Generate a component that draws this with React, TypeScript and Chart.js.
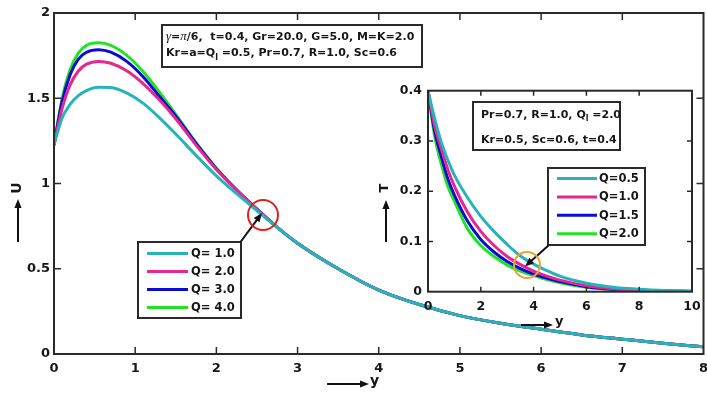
import React, { useEffect, useRef } from 'react';
import { Chart, registerables } from 'chart.js';
Chart.register(...registerables);

// ---------- Data (main plot: velocity U vs y) ----------
const mainY = [0, 0.1, 0.2, 0.3, 0.4, 0.55, 0.7, 0.9, 1.1, 1.3, 1.5, 1.75, 2, 2.25, 2.5, 2.75, 3, 3.5, 4, 4.5, 5, 5.5, 6, 6.5, 7, 7.5, 8];
const U_Q1 = [1.228, 1.385, 1.465, 1.515, 1.545, 1.564, 1.563, 1.53, 1.47, 1.385, 1.29, 1.165, 1.045, 0.94, 0.84, 0.742, 0.65, 0.5, 0.375, 0.29, 0.225, 0.18, 0.145, 0.112, 0.087, 0.063, 0.042];
const U_Q2 = [1.228, 1.44, 1.58, 1.66, 1.7, 1.716, 1.705, 1.66, 1.585, 1.49, 1.38, 1.225, 1.082, 0.96, 0.849, 0.743, 0.65, 0.5, 0.375, 0.29, 0.225, 0.18, 0.145, 0.112, 0.087, 0.063, 0.042];
const U_Q3 = [1.228, 1.48, 1.64, 1.73, 1.77, 1.785, 1.77, 1.715, 1.625, 1.51, 1.395, 1.235, 1.087, 0.962, 0.85, 0.743, 0.65, 0.5, 0.375, 0.29, 0.225, 0.18, 0.145, 0.112, 0.087, 0.063, 0.042];
const U_Q4 = [1.228, 1.5, 1.67, 1.765, 1.81, 1.825, 1.81, 1.75, 1.655, 1.535, 1.405, 1.24, 1.09, 0.963, 0.85, 0.743, 0.65, 0.5, 0.375, 0.29, 0.225, 0.18, 0.145, 0.112, 0.087, 0.063, 0.042];
const mainLabels = ['Q= 1.0', 'Q= 2.0', 'Q= 3.0', 'Q= 4.0'];

// ---------- Data (inset: temperature T vs y) ----------
const insetY = [0, 0.25, 0.5, 0.75, 1, 1.5, 2, 2.5, 3, 3.5, 4, 4.5, 5, 6, 7, 8, 9, 10];
const T_Q05 = [0.4, 0.345, 0.298, 0.262, 0.232, 0.187, 0.15, 0.12, 0.094, 0.071, 0.055, 0.042, 0.031, 0.017, 0.009, 0.005, 0.0025, 0.001];
const T_Q10 = [0.4, 0.33, 0.285, 0.243, 0.21, 0.158, 0.12, 0.092, 0.07, 0.054, 0.041, 0.031, 0.023, 0.012, 0.006, 0.003, 0.0015, 0.0007];
const T_Q15 = [0.4, 0.32, 0.27, 0.225, 0.192, 0.14, 0.104, 0.079, 0.06, 0.046, 0.035, 0.027, 0.02, 0.01, 0.005, 0.0025, 0.0012, 0.0005];
const T_Q20 = [0.4, 0.31, 0.255, 0.21, 0.18, 0.125, 0.092, 0.07, 0.053, 0.041, 0.032, 0.024, 0.018, 0.009, 0.0045, 0.002, 0.001, 0.0004];
const insetLabels = ['Q=0.5', 'Q=1.0', 'Q=1.5', 'Q=2.0'];

const COLORS = ['#27B3BA', '#E5278F', '#0B0BD8', '#22E322'];
const SANS = '"DejaVu Sans", sans-serif';
const SERIF = '"Liberation Serif", "DejaVu Serif", serif';
const INK = '#161616';
const AXIS = '#2a2a2a';

type Part = { t: string; f: string; dy?: number };

function drawParts(ctx: CanvasRenderingContext2D, x: number, y: number, parts: Part[]) {
  let cx = x;
  for (const p of parts) {
    ctx.font = p.f;
    ctx.fillText(p.t, cx, y + (p.dy || 0));
    cx += ctx.measureText(p.t).width;
  }
}

function drawArrow(ctx: CanvasRenderingContext2D, x1: number, y1: number, x2: number, y2: number, head = 9, hw = 3.6, lw = 2, color = '#111') {
  const ang = Math.atan2(y2 - y1, x2 - x1);
  const c = Math.cos(ang), s = Math.sin(ang);
  ctx.save();
  ctx.strokeStyle = color;
  ctx.fillStyle = color;
  ctx.lineWidth = lw;
  ctx.beginPath();
  ctx.moveTo(x1, y1);
  ctx.lineTo(x2 - c * head * 0.7, y2 - s * head * 0.7);
  ctx.stroke();
  ctx.beginPath();
  ctx.moveTo(x2, y2);
  ctx.lineTo(x2 - head * c + hw * s, y2 - head * s - hw * c);
  ctx.lineTo(x2 - head * c - hw * s, y2 - head * s + hw * c);
  ctx.closePath();
  ctx.fill();
  ctx.restore();
}

function drawFrame(chart: any, tickLen: number) {
  const { ctx, chartArea: a, scales } = chart;
  const xs = scales.x, ys = scales.y;
  ctx.save();
  ctx.strokeStyle = AXIS;
  ctx.lineWidth = 2;
  ctx.strokeRect(a.left, a.top, a.right - a.left, a.bottom - a.top);
  ctx.lineWidth = 1.5;
  ctx.beginPath();
  for (const t of xs.ticks) {
    const px = xs.getPixelForValue(t.value);
    if (px <= a.left + 1 || px >= a.right - 1) continue;
    ctx.moveTo(px, a.bottom); ctx.lineTo(px, a.bottom - tickLen);
    ctx.moveTo(px, a.top); ctx.lineTo(px, a.top + tickLen);
  }
  for (const t of ys.ticks) {
    const py = ys.getPixelForValue(t.value);
    if (py <= a.top + 1 || py >= a.bottom - 1) continue;
    ctx.moveTo(a.left, py); ctx.lineTo(a.left + tickLen, py);
    ctx.moveTo(a.right, py); ctx.lineTo(a.right - tickLen, py);
  }
  ctx.stroke();
  ctx.restore();
}

function drawLegend(ctx: CanvasRenderingContext2D, box: [number, number, number, number], labels: string[], lineX: [number, number], textX: number, rowY0: number, rowDy: number, font: string) {
  ctx.save();
  ctx.fillStyle = '#fff';
  ctx.fillRect(box[0], box[1], box[2], box[3]);
  ctx.strokeStyle = AXIS;
  ctx.lineWidth = 2;
  ctx.strokeRect(box[0], box[1], box[2], box[3]);
  labels.forEach((lab, i) => {
    const yy = rowY0 + i * rowDy;
    ctx.strokeStyle = COLORS[i];
    ctx.lineWidth = 3;
    ctx.beginPath();
    ctx.moveTo(lineX[0], yy);
    ctx.lineTo(lineX[1], yy);
    ctx.stroke();
    ctx.fillStyle = INK;
    ctx.font = font;
    ctx.textBaseline = 'middle';
    ctx.textAlign = 'left';
    ctx.fillText(lab, textX, yy + 0.5);
  });
  ctx.restore();
}

const mainDecor = {
  id: 'mainDecor',
  afterDraw(chart: any) {
    const ctx: CanvasRenderingContext2D = chart.ctx;
    drawFrame(chart, 7);
    ctx.save();
    ctx.fillStyle = '#fff';
    ctx.fillRect(162, 25, 260, 42);
    ctx.strokeStyle = AXIS;
    ctx.lineWidth = 2;
    ctx.strokeRect(162, 25, 260, 42);
    ctx.fillStyle = INK;
    ctx.textBaseline = 'middle';
    ctx.textAlign = 'left';
    const B = `bold 11px ${SANS}`;
    const G = `italic 13px ${SERIF}`;
    drawParts(ctx, 166, 37, [
      { t: 'γ', f: G }, { t: '=', f: B }, { t: 'π', f: G }, { t: '/6,  t=0.4, Gr=20.0, G=5.0, M=K=2.0', f: B },
    ]);
    drawParts(ctx, 166, 53.5, [
      { t: 'Kr=a=Q', f: B }, { t: 'l', f: `bold 8px ${SANS}`, dy: 4 }, { t: ' =0.5, Pr=0.7, R=1.0, Sc=0.6', f: B },
    ]);
    ctx.restore();
    const labels = chart.data.datasets.map((d: any) => d.label);
    drawLegend(ctx, [138, 242, 103, 76], labels, [147, 188], 191, 253.5, 18, `bold 11.5px ${SANS}`);
    drawArrow(ctx, 240.5, 242, 262, 213);
    ctx.save();
    ctx.strokeStyle = '#E0201B';
    ctx.lineWidth = 2;
    ctx.beginPath();
    ctx.arc(263, 215, 15, 0, Math.PI * 2);
    ctx.stroke();
    ctx.restore();
    drawArrow(ctx, 327, 384, 369, 384);
    ctx.save();
    ctx.fillStyle = INK;
    ctx.font = `bold 14px ${SANS}`;
    ctx.textBaseline = 'middle';
    ctx.textAlign = 'left';
    ctx.fillText('y', 370, 381);
    ctx.translate(17, 188);
    ctx.rotate(-Math.PI / 2);
    ctx.textAlign = 'center';
    ctx.fillText('U', 0, 0);
    ctx.restore();
    drawArrow(ctx, 18, 242, 18, 199);
  },
};

const insetDecor = {
  id: 'insetDecor',
  beforeDraw(chart: any) {
    const { ctx, chartArea: a } = chart;
    ctx.save();
    ctx.fillStyle = '#fff';
    ctx.fillRect(a.left, a.top, a.right - a.left, a.bottom - a.top);
    ctx.restore();
  },
  afterDraw(chart: any) {
    const ctx: CanvasRenderingContext2D = chart.ctx;
    drawFrame(chart, 5);
    ctx.save();
    ctx.fillStyle = '#fff';
    ctx.fillRect(103, 22, 147, 48);
    ctx.strokeStyle = AXIS;
    ctx.lineWidth = 2;
    ctx.strokeRect(103, 22, 147, 48);
    ctx.fillStyle = INK;
    ctx.textBaseline = 'middle';
    ctx.textAlign = 'left';
    const B = `bold 11px ${SANS}`;
    drawParts(ctx, 111, 35, [
      { t: 'Pr=0.7, R=1.0, Q', f: B }, { t: 'l', f: `bold 8px ${SANS}`, dy: 4 }, { t: ' =2.0', f: B },
    ]);
    drawParts(ctx, 111, 60, [{ t: 'Kr=0.5, Sc=0.6, t=0.4', f: B }]);
    ctx.restore();
    const labels = chart.data.datasets.map((d: any) => d.label);
    drawLegend(ctx, [178, 88, 97, 77], labels, [187, 227], 229, 98.5, 18.4, `bold 11.5px ${SANS}`);
    drawArrow(ctx, 179, 165, 155, 186.5);
    ctx.save();
    ctx.strokeStyle = '#E8A33A';
    ctx.lineWidth = 2;
    ctx.beginPath();
    ctx.arc(157, 185, 13, 0, Math.PI * 2);
    ctx.stroke();
    ctx.restore();
    drawArrow(ctx, 151, 245, 183, 245);
    ctx.save();
    ctx.fillStyle = INK;
    ctx.font = `bold 13px ${SANS}`;
    ctx.textBaseline = 'middle';
    ctx.textAlign = 'left';
    ctx.fillText('y', 185, 242);
    ctx.translate(15, 108);
    ctx.rotate(-Math.PI / 2);
    ctx.textAlign = 'center';
    ctx.fillText('T', 0, 0);
    ctx.restore();
    drawArrow(ctx, 16, 162, 16, 120);
  },
};

function makeDatasets(xs: number[], series: number[][], labels: string[]) {
  return series.map((s, i) => ({
    label: labels[i],
    data: xs.map((x, j) => ({ x, y: s[j] })),
    borderColor: COLORS[i],
    backgroundColor: COLORS[i],
    borderWidth: 3,
    pointRadius: 0,
    fill: false,
    cubicInterpolationMode: 'monotone' as const,
    borderCapStyle: 'round' as const,
    borderJoinStyle: 'round' as const,
  }));
}

const fmt = (v: any) => String(Number(Number(v).toFixed(2)));

export default function App() {
  const mainRef = useRef<HTMLCanvasElement>(null);
  const insetRef = useRef<HTMLCanvasElement>(null);

  useEffect(() => {
    const tickFont = { family: SANS, size: 13, weight: 'bold' as const };
    const main = new Chart(mainRef.current!, {
      type: 'line',
      data: { datasets: makeDatasets(mainY, [U_Q1, U_Q2, U_Q3, U_Q4], mainLabels) as any },
      options: {
        animation: false,
        responsive: false,
        devicePixelRatio: 1,
        layout: { padding: { top: 13, right: 3.5, left: 0, bottom: 0 } },
        plugins: { legend: { display: false }, tooltip: { enabled: false } },
        scales: {
          x: {
            type: 'linear', min: 0, max: 8,
            ticks: { stepSize: 1, font: tickFont, color: INK, padding: 7, maxRotation: 0, callback: fmt },
            grid: { display: false, drawTicks: false },
            border: { display: false },
            afterFit: (s: any) => { s.height = 41; s.paddingLeft = 0; s.paddingRight = 0; },
          },
          y: {
            type: 'linear', min: 0, max: 2,
            ticks: { stepSize: 0.5, font: tickFont, color: INK, padding: 4, callback: fmt },
            grid: { display: false, drawTicks: false },
            border: { display: false },
            afterFit: (s: any) => { s.width = 54; s.paddingTop = 0; s.paddingBottom = 0; },
          },
        },
      },
      plugins: [mainDecor],
    });
    const inset = new Chart(insetRef.current!, {
      type: 'line',
      data: { datasets: makeDatasets(insetY, [T_Q05, T_Q10, T_Q15, T_Q20], insetLabels) as any },
      options: {
        animation: false,
        responsive: false,
        devicePixelRatio: 1,
        layout: { padding: { top: 10.7, right: 15, left: 0, bottom: 0 } },
        plugins: { legend: { display: false }, tooltip: { enabled: false } },
        scales: {
          x: {
            type: 'linear', min: 0, max: 10,
            ticks: { stepSize: 2, font: { ...tickFont, size: 12.5 }, color: INK, padding: 8, maxRotation: 0, callback: fmt },
            grid: { display: false, drawTicks: false },
            border: { display: false },
            afterFit: (s: any) => { s.height = 43.3; s.paddingLeft = 0; s.paddingRight = 0; },
          },
          y: {
            type: 'linear', min: 0, max: 0.4,
            ticks: { stepSize: 0.1, font: { ...tickFont, size: 12.5 }, color: INK, padding: 6, callback: fmt },
            grid: { display: false, drawTicks: false },
            border: { display: false },
            afterFit: (s: any) => { s.width = 58; s.paddingTop = 0; s.paddingBottom = 0; },
          },
        },
      },
      plugins: [insetDecor],
    });
    return () => { main.destroy(); inset.destroy(); };
  }, []);

  return (
    <div style={{ position: 'fixed', left: 0, top: 0, width: 707, height: 395, background: '#fff' }}>
      <canvas ref={mainRef} width={707} height={395} style={{ position: 'absolute', left: 0, top: 0 }} />
      <canvas ref={insetRef} width={337} height={255} style={{ position: 'absolute', left: 370, top: 80 }} />
    </div>
  );
}
